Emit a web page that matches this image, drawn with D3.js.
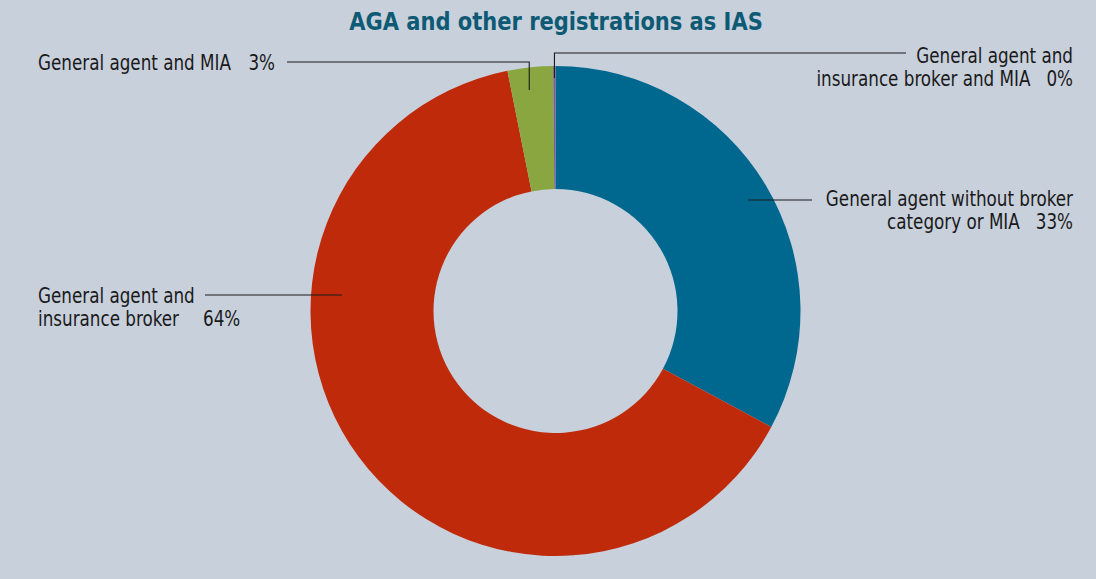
<!DOCTYPE html>
<html><head><meta charset="utf-8">
<script src="https://cdn.jsdelivr.net/npm/d3@7"></script>
<style>
html,body{margin:0;padding:0;background:#fff;}
svg{display:block;}
text{font-family:"Liberation Sans Narrow","DejaVu Sans Condensed","Roboto Condensed",sans-serif;}
</style></head>
<body>
<svg id="chart" width="1096" height="579"></svg>
<script>
const title = "AGA and other registrations as IAS";
const categories = [
  "General agent without broker category or MIA",
  "General agent and insurance broker",
  "General agent and MIA",
  "General agent and insurance broker and MIA"
];
const values = [32.9, 64.1, 3.0, 0.15];
const percentLabels = ["33%", "64%", "3%", "0%"];
const colors = ["#00688f", "#bf2a0a", "#8aa640", "#7d5f95"];

const svg = d3.select("#chart");
const W = 1096, H = 579;
svg.append("rect").attr("x",0).attr("y",0).attr("width",W).attr("height",H).attr("fill","#c8d0dc");

function txt(parent, x, y, s, anchor, size, sx, weight, fill){
  const t = parent.append("text")
    .attr("transform", `translate(${x},${y}) scale(${sx},1)`)
    .attr("text-anchor", anchor || "start")
    .attr("font-size", size)
    .attr("xml:space","preserve")
    .text(s);
  if (weight) t.attr("font-weight", weight);
  if (fill) t.attr("fill", fill);
  return t;
}

txt(svg, 556, 30, title, "middle", 25, 0.935, "bold", "#0e5a74");

const cx = 555.5, cy = 311, rOut = 245, rIn = 122;
const pie = d3.pie().sort(null).value(d => d);
const arcs = pie(values);
const arc = d3.arc().innerRadius(rIn).outerRadius(rOut);
const g = svg.append("g").attr("transform", `translate(${cx},${cy})`);
g.selectAll("path").data(arcs).join("path")
  .attr("d", arc).attr("fill", (d,i) => colors[i]);

const lab = svg.append("g").attr("fill","#1a1a1a");
const FS = 20.5, SX = 0.91;
const line = d3.line();
function poly(pts){ svg.append("path").attr("d", line(pts)).attr("fill","none").attr("stroke","#1a1a1a").attr("stroke-width",1.1); }
function pt(i, r){ const a = (arcs[i].startAngle + arcs[i].endAngle)/2; return [cx + r*Math.sin(a), cy - r*Math.cos(a)]; }

// Blue 33%
poly([[748, 200],[812, 200]]);
txt(lab, 1073, 206, "General agent without broker", "end", FS, SX);
txt(lab, 1073, 229, "category or MIA   " + percentLabels[0], "end", FS, SX);

// Red 64%
poly([[205, 295],[342, 295]]);
txt(lab, 38, 303, "General agent and", "start", FS, SX);
txt(lab, 38, 326, "insurance broker", "start", FS, SX);
txt(lab, 203, 326, percentLabels[1], "start", FS, SX);

// Green 3%
const pg = pt(2, 225);
poly([[287, 62],[pg[0]-3, 62],[pg[0]-3, 90]]);
txt(lab, 38, 70, "General agent and MIA", "start", FS, SX);
txt(lab, 275, 70, percentLabels[2], "end", FS, SX);

// Purple 0%
const pp = pt(3, 225);
poly([[906, 53],[pp[0], 53],[pp[0], 78]]);
txt(lab, 1073, 63, "General agent and", "end", FS, SX);
txt(lab, 1073, 86, "insurance broker and MIA   " + percentLabels[3], "end", FS, SX);
</script>
</body></html>
